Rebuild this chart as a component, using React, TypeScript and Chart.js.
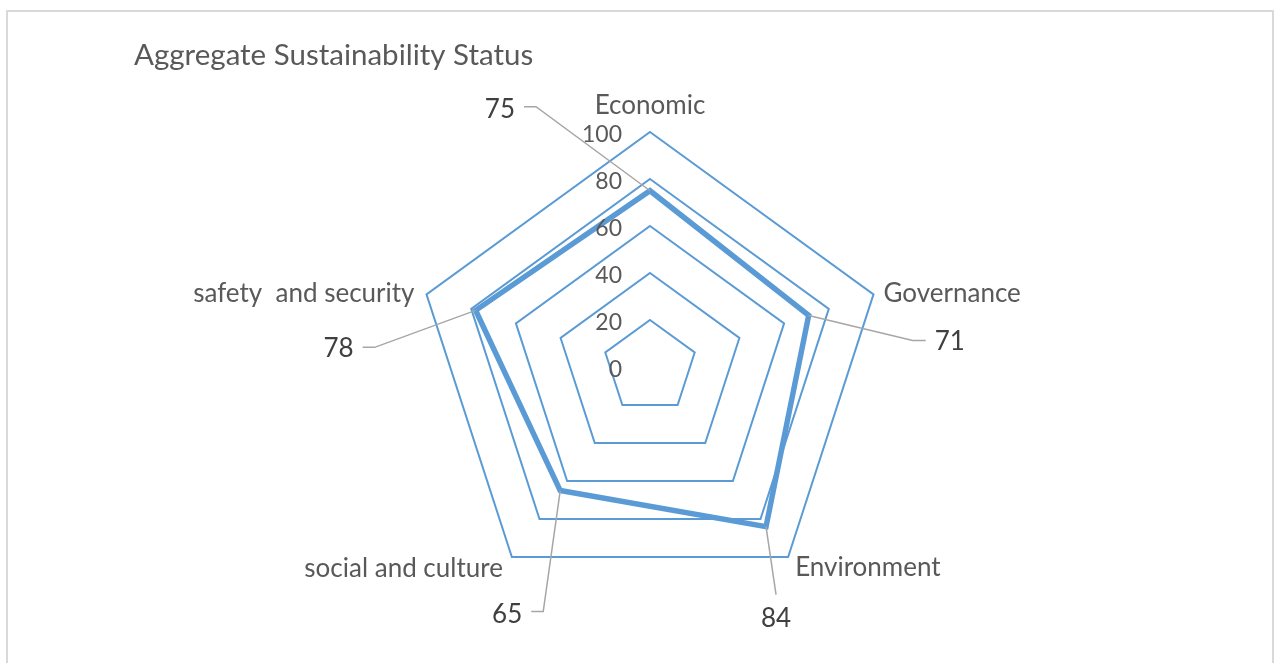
import React, { useEffect, useRef } from "react";
import { Chart, registerables } from "chart.js";

Chart.register(...registerables);

// ---- data ----
const TITLE = "Aggregate Sustainability Status";
const categories = ["Economic", "Governance", "Environment", "social and culture", "safety  and security"];
const values = [75, 71, 84, 65, 78];
const scaleMin = 0;
const scaleMax = 100;
const scaleStep = 20;

// ---- styles / positions ----
const FONT = "Lato, 'Open Sans', sans-serif";
const BLUE = "#5B9BD5";
const GRAY_TEXT = "#595959";
const DARK_TEXT = "#404040";
const LEADER = "#A6A6A6";

// point label offsets relative to the outer ring vertex: [dx, dy(baseline), align]
const pointLabelPos: [number, number, CanvasTextAlign][] = [
  [0, -18, "center"],
  [10, 8, "left"],
  [7, 19, "left"],
  [-9, 20, "right"],
  [-12, 8, "right"],
];

// data label callouts relative to the data point: elbow dx, dy, tail length, text dx from elbow, baseline dy from elbow, align
const calloutPos: [number, number, number, number, number, CanvasTextAlign][] = [
  [-114, -84, -12, -21, 11, "right"],
  [104, 25, 13, 22, 10, "left"],
  [10, 68, 0, 0, 32, "center"],
  [-17, 121, -12, -21, 11, "right"],
  [-101, 37, -12, -21, 10, "right"],
];

const overlayPlugin = {
  id: "overlay",
  afterDraw(chart: any) {
    const ctx: CanvasRenderingContext2D = chart.ctx;
    const scale = chart.scales.r;
    const cx = scale.xCenter;
    const cy = scale.yCenter;
    ctx.save();

    // title
    ctx.font = `29.5px ${FONT}`;
    ctx.fillStyle = GRAY_TEXT;
    ctx.textAlign = "left";
    ctx.textBaseline = "alphabetic";
    ctx.fillText(TITLE, 134, 65);

    // tick labels
    ctx.font = `23px ${FONT}`;
    ctx.fillStyle = GRAY_TEXT;
    ctx.textAlign = "right";
    scale.ticks.forEach((t: any) => {
      const d = scale.getDistanceFromCenterForValue(t.value);
      ctx.fillText(String(t.value), cx - 28, cy - d + 10);
    });

    // point labels
    ctx.font = `26px ${FONT}`;
    categories.forEach((c, i) => {
      const p = scale.getPointPositionForValue(i, scaleMax);
      const [dx, dy, al] = pointLabelPos[i];
      ctx.textAlign = al;
      ctx.fillText(c, p.x + dx, p.y + dy);
    });

    // data callouts
    const meta = chart.getDatasetMeta(0);
    ctx.strokeStyle = LEADER;
    ctx.lineWidth = 1.5;
    ctx.font = `26px ${FONT}`;
    ctx.fillStyle = DARK_TEXT;
    values.forEach((v, i) => {
      const el = meta.data[i];
      const [ex, ey, tail, tx, ty, al] = calloutPos[i];
      const x0 = el.x;
      const y0 = el.y;
      const x1 = x0 + ex;
      const y1 = y0 + ey;
      ctx.beginPath();
      ctx.moveTo(x0, y0);
      ctx.lineTo(x1, y1);
      if (tail !== 0) ctx.lineTo(x1 + tail, y1);
      ctx.stroke();
      ctx.textAlign = al;
      ctx.fillText(String(v), x1 + tx, y1 + ty);
    });

    ctx.restore();
  },
};

export default function App() {
  const ref = useRef<HTMLCanvasElement | null>(null);

  useEffect(() => {
    if (!ref.current) return;
    const chart = new Chart(ref.current, {
      type: "radar",
      data: {
        labels: categories,
        datasets: [
          {
            label: "Status",
            data: values,
            borderColor: BLUE,
            borderWidth: 5.5,
            fill: false,
            pointRadius: 0,
            pointHoverRadius: 0,
          },
        ],
      },
      options: {
        responsive: false,
        animation: false,
        devicePixelRatio: 1,
        layout: { padding: { top: 132, bottom: 61, left: 300, right: 274 } },
        plugins: {
          legend: { display: false },
          title: { display: false },
          tooltip: { enabled: false },
        },
        scales: {
          r: {
            min: scaleMin,
            max: scaleMax,
            ticks: { display: false, stepSize: scaleStep },
            pointLabels: { display: false },
            angleLines: { display: false },
            grid: { color: BLUE, lineWidth: 2 },
          },
        },
      },
      plugins: [overlayPlugin],
    });
    return () => chart.destroy();
  }, []);

  return (
    <div style={{ position: "fixed", left: 0, top: 0, width: 1274, height: 663, background: "#fff", overflow: "hidden" }}>
      <canvas ref={ref} width={1274} height={663} style={{ position: "absolute", left: 0, top: 0 }} />
      <div
        style={{
          position: "absolute",
          left: 6,
          top: 10,
          width: 1264,
          height: 720,
          border: "2px solid #D9D9D9",
          pointerEvents: "none",
        }}
      />
    </div>
  );
}
